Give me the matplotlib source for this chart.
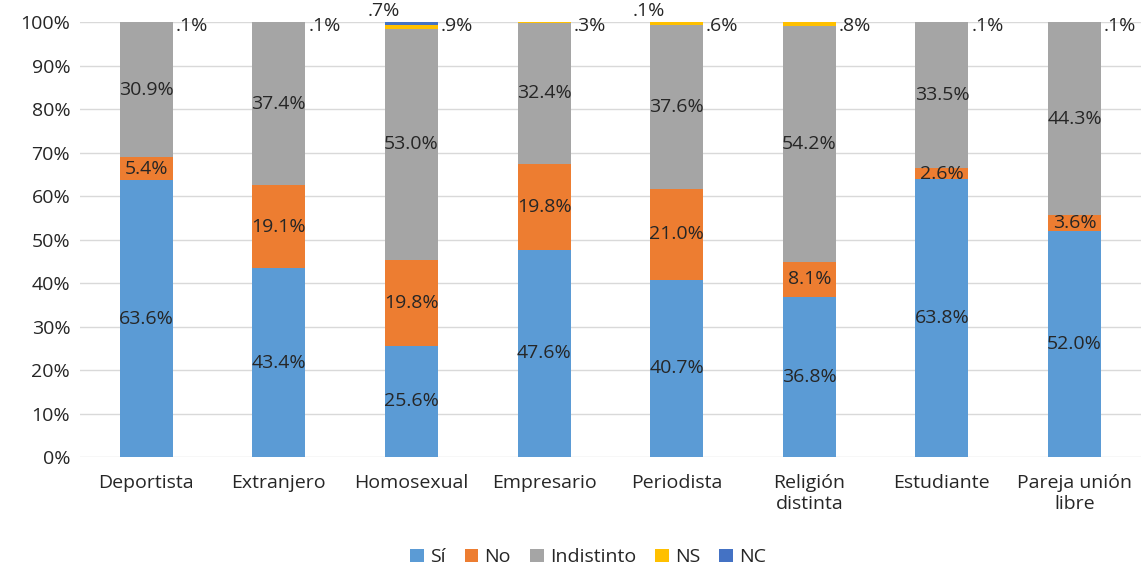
import numpy as np
import matplotlib.pyplot as plt
from matplotlib.ticker import PercentFormatter

plt.rcParams['font.family'] = ['Open Sans', 'DejaVu Sans']

categories = ['Deportista', 'Extranjero', 'Homosexual', 'Empresario', 'Periodista',
              'Religión\ndistinta', 'Estudiante', 'Pareja unión\nlibre']
si = [63.6, 43.4, 25.6, 47.6, 40.7, 36.8, 63.8, 52.0]
no = [5.4, 19.1, 19.8, 19.8, 21.0, 8.1, 2.6, 3.6]
indistinto = [30.9, 37.4, 53.0, 32.4, 37.6, 54.2, 33.5, 44.3]
ns = [0.1, 0.1, 0.9, 0.3, 0.6, 0.8, 0.1, 0.1]
nc = [0.0, 0.0, 0.7, 0.0, 0.1, 0.0, 0.0, 0.0]

series = [('Sí', si, '#5B9BD5'), ('No', no, '#ED7D31'), ('Indistinto', indistinto, '#A5A5A5'),
          ('NS', ns, '#FFC000'), ('NC', nc, '#4472C4')]
TXT = '#262626'
FS = 14

fig = plt.figure(figsize=(11.42, 5.69), dpi=100)
ax = fig.add_axes([0.070, 0.1968, 0.929, 0.7645])
x = np.arange(len(categories))
w = 0.4
bottom = np.zeros(len(categories))
for name, vals, col in series:
    vals = np.array(vals)
    ax.bar(x, vals, w, bottom=bottom, color=col, label=name, zorder=2)
    for i, v in enumerate(vals):
        if v <= 0:
            continue
        if name in ('Sí', 'No', 'Indistinto'):
            ax.text(x[i], bottom[i] + v / 2, f'{v:.1f}%', ha='center', va='center',
                    fontsize=FS, color=TXT, zorder=3)
        elif name == 'NS':
            ax.annotate(f'.{int(round(v * 10))}%', xy=(x[i] + w / 2, 100), xytext=(2, -3),
                        textcoords='offset points', ha='left', va='center',
                        fontsize=FS, color=TXT)
        else:
            ax.annotate(f'.{int(round(v * 10))}%', xy=(x[i], 100), xytext=(-20, 8),
                        textcoords='offset points', ha='center', va='center',
                        fontsize=FS, color=TXT)
    bottom += vals

ax.set_xlim(-0.5, len(categories) - 0.5)
ax.set_ylim(0, 100)
ax.set_yticks(np.arange(0, 101, 10))
ax.yaxis.set_major_formatter(PercentFormatter(decimals=0))
ax.set_xticks(x)
ax.set_xticklabels(categories, linespacing=1.25)
ax.tick_params(axis='both', length=0, labelsize=FS, labelcolor=TXT)
ax.tick_params(axis='x', pad=12)
ax.tick_params(axis='y', pad=7)
ax.grid(axis='y', color='#D9D9D9', lw=1.0, zorder=0)
for s in ax.spines.values():
    s.set_visible(False)

fig.legend(loc='lower center', bbox_to_anchor=(0.515, -0.026), ncol=5, frameon=False,
           fontsize=FS, handlelength=0.7, handleheight=0.7, handletextpad=0.3,
           columnspacing=1.0, labelcolor=TXT)

fig.savefig('out.png', dpi=100)
